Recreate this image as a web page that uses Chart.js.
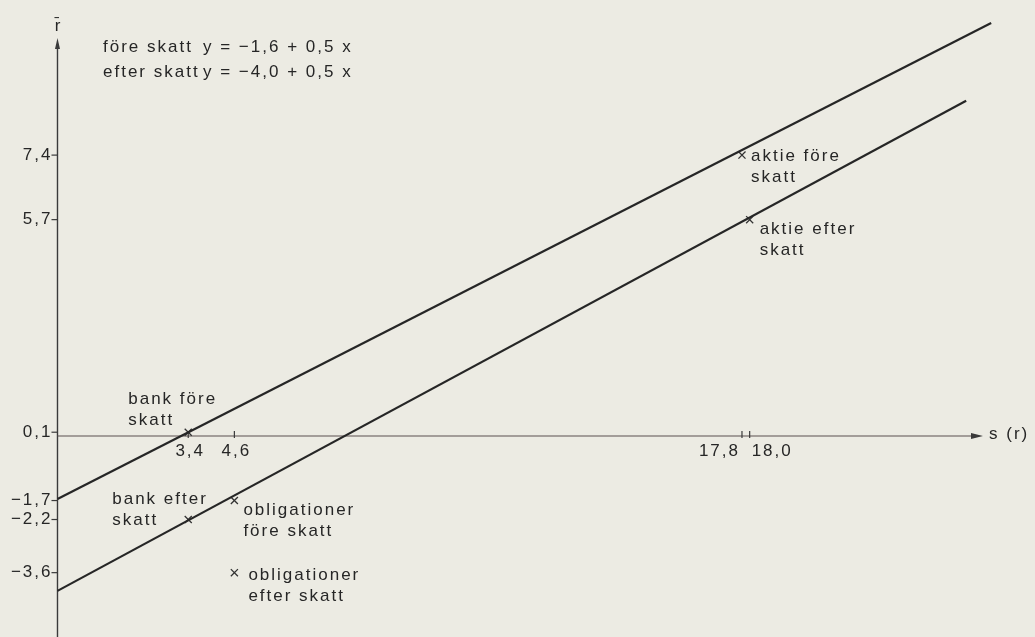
<!DOCTYPE html>
<html lang="sv">
<head>
<meta charset="utf-8">
<title>Avkastning före och efter skatt</title>
<script src="https://cdn.jsdelivr.net/npm/chart.js@4.4.1/dist/chart.umd.min.js"></script>
<style>
  html, body { margin: 0; padding: 0; background: #ecebe3; }
  #wrap { width: 1035px; height: 637px; }
</style>
</head>
<body>
<div id="wrap"><canvas id="diagram" width="1035" height="637"></canvas></div>
<script>
// placeringarna: x = s, y = r-streck
const pointNames = ['bank före skatt', 'bank efter skatt', 'obligationer före skatt',
                    'obligationer efter skatt', 'aktie före skatt', 'aktie efter skatt'];
const pointX = [3.4, 3.4, 4.6, 4.6, 17.8, 18.0];
const pointY = [0.1, -2.2, -1.7, -3.6, 7.4, 5.7];
const pointLabels = [['bank före', 'skatt'], ['bank efter', 'skatt'], ['obligationer', 'före skatt'],
                     ['obligationer', 'efter skatt'], ['aktie före', 'skatt'], ['aktie efter', 'skatt']];

// linjerna före och efter skatt, ändpunkter
const foreX = [0, 24.28];
const foreY = [-1.66, 10.88];
const efterX = [0, 23.63];
const efterY = [-4.08, 8.83];

const xTicks = [3.4, 4.6, 17.8, 18.0];
const yTicks = [7.4, 5.7, 0.1, -1.7, -2.2, -3.6];

const equations = [['före skatt', 'y = \u22121,6 + 0,5 x'], ['efter skatt', 'y = \u22124,0 + 0,5 x']];
const xTitle = 's (r)';
const yTitle = 'r\u0304';

// var texten hamnar i förhållande till krysset (px)
const labelOffsets = [[-60, -28], [-76, -16], [9, 14], [14, 7], [9, 6], [10, 14]];

const FONT = '17px "Liberation Sans", Arial, sans-serif';
const INK = '#262626';

function fmt(v) {
  const s = Math.abs(v).toFixed(1).replace('.', ',');
  return v < 0 ? '\u2212' + s : s;
}

function toPoints(xs, ys) {
  return xs.map((x, i) => ({x: x, y: ys[i]}));
}

const axesPlugin = {
  id: 'paperAxes',
  beforeDatasetsDraw(chart) {
    const {ctx, chartArea} = chart;
    const xs = chart.scales.x, ys = chart.scales.y;
    const x0 = xs.getPixelForValue(0);
    const y0 = ys.getPixelForValue(0);
    const yTop = chartArea.top + 38;
    const xEnd = chartArea.right - 52;

    ctx.save();
    ctx.strokeStyle = '#3a3a3a';
    ctx.fillStyle = '#3a3a3a';

    // y-axeln med pil
    ctx.lineWidth = 1.4;
    ctx.beginPath();
    ctx.moveTo(x0, chartArea.bottom);
    ctx.lineTo(x0, yTop + 6);
    ctx.stroke();
    ctx.beginPath();
    ctx.moveTo(x0, yTop);
    ctx.lineTo(x0 - 2.5, yTop + 11);
    ctx.lineTo(x0 + 2.5, yTop + 11);
    ctx.closePath();
    ctx.fill();

    // x-axeln med pil
    ctx.lineWidth = 1.1;
    ctx.strokeStyle = '#5a5050';
    ctx.beginPath();
    ctx.moveTo(x0, y0);
    ctx.lineTo(xEnd - 6, y0);
    ctx.stroke();
    ctx.fillStyle = '#3a3a3a';
    ctx.beginPath();
    ctx.moveTo(xEnd, y0);
    ctx.lineTo(xEnd - 12, y0 - 3);
    ctx.lineTo(xEnd - 12, y0 + 3);
    ctx.closePath();
    ctx.fill();

    ctx.font = FONT;
    ctx.letterSpacing = '2px';
    ctx.fillStyle = INK;
    ctx.strokeStyle = '#3a3a3a';
    ctx.lineWidth = 1.2;

    // y-ticks till vänster om axeln
    ctx.textAlign = 'right';
    ctx.textBaseline = 'middle';
    yTicks.forEach(v => {
      const py = ys.getPixelForValue(v);
      ctx.beginPath();
      ctx.moveTo(x0 - 6, py);
      ctx.lineTo(x0, py);
      ctx.stroke();
      ctx.fillText(fmt(v), x0 - 5, py);
    });

    // x-ticks, etiketter under axeln
    xTicks.forEach((v, i) => {
      const px = xs.getPixelForValue(v);
      ctx.beginPath();
      ctx.moveTo(px, y0 - 5);
      ctx.lineTo(px, y0 + 2);
      ctx.stroke();
      const prev = i > 0 ? xs.getPixelForValue(xTicks[i - 1]) : -Infinity;
      const next = i < xTicks.length - 1 ? xs.getPixelForValue(xTicks[i + 1]) : Infinity;
      let tx = px;
      if (next - px < 20) { ctx.textAlign = 'right'; tx = px - 2; }
      else if (px - prev < 20) { ctx.textAlign = 'left'; tx = px + 2; }
      else { ctx.textAlign = 'center'; tx = px + 2; }
      ctx.fillText(fmt(v), tx, y0 + 15);
    });

    // axeltitlar
    ctx.textAlign = 'left';
    ctx.fillText(xTitle, xEnd + 6, y0 - 2);
    ctx.letterSpacing = '0px';
    ctx.textAlign = 'center';
    ctx.textBaseline = 'alphabetic';
    ctx.fillText(yTitle, x0, chartArea.top + 31);
    ctx.restore();
  },
  afterDatasetsDraw(chart) {
    const {ctx, chartArea} = chart;
    const meta = chart.getDatasetMeta(2);
    ctx.save();
    ctx.font = FONT;
    ctx.letterSpacing = '2px';
    ctx.fillStyle = INK;
    ctx.textAlign = 'left';
    ctx.textBaseline = 'alphabetic';

    meta.data.forEach((pt, i) => {
      const [dx, dy] = labelOffsets[i];
      pointLabels[i].forEach((line, j) => {
        ctx.fillText(line, pt.x + dx, pt.y + dy + j * 21);
      });
    });

    // ekvationerna uppe till vänster
    equations.forEach((eq, j) => {
      const by = chartArea.top + 52 + j * 25;
      ctx.fillText(eq[0], chartArea.left + 103, by);
      ctx.fillText(eq[1], chartArea.left + 203, by);
    });
    ctx.restore();
  }
};

new Chart(document.getElementById('diagram'), {
  type: 'scatter',
  data: {
    datasets: [
      {
        label: 'före skatt',
        data: toPoints(foreX, foreY),
        showLine: true,
        borderColor: '#262626',
        borderWidth: 2.2,
        pointRadius: 0
      },
      {
        label: 'efter skatt',
        data: toPoints(efterX, efterY),
        showLine: true,
        borderColor: '#262626',
        borderWidth: 2.2,
        pointRadius: 0
      },
      {
        label: 'placeringar',
        data: toPoints(pointX, pointY),
        pointStyle: 'crossRot',
        pointRadius: 5,
        pointBorderWidth: 1.3,
        borderColor: '#333333',
        backgroundColor: '#333333'
      }
    ]
  },
  options: {
    responsive: false,
    devicePixelRatio: 1,
    animation: false,
    layout: { padding: 0, autoPadding: false },
    plugins: {
      legend: { display: false },
      tooltip: { enabled: false }
    },
    scales: {
      x: { type: 'linear', min: -1.495, max: 25.42, display: false },
      y: { type: 'linear', min: -5.295, max: 11.486, display: false }
    }
  },
  plugins: [axesPlugin]
});
</script>
</body>
</html>
